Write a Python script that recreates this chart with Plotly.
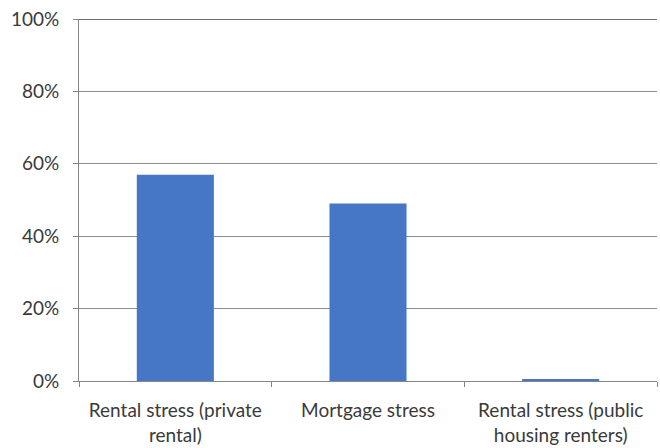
import plotly.graph_objects as go

# Share of households in housing stress, by tenure type
categories = [
    "Rental stress (private<br>rental)",
    "Mortgage stress",
    "Rental stress (public<br>housing renters)",
]
shares = [0.57, 0.49, 0.004]
y_ticks = [0, 0.2, 0.4, 0.6, 0.8, 1.0]
y_tick_labels = ["0%", "20%", "40%", "60%", "80%", "100%"]

font_family = "Lato, Carlito, Calibri, 'Open Sans', sans-serif"
text_color = "#3a3a3a"

fig = go.Figure(
    go.Bar(
        x=categories,
        y=shares,
        marker=dict(color="#4677C6", line=dict(width=0)),
        hoverinfo="x+y",
    )
)

fig.update_layout(
    width=660,
    height=448,
    margin=dict(l=79, r=3, t=19, b=67),
    paper_bgcolor="white",
    plot_bgcolor="white",
    bargap=0.6,
    showlegend=False,
    font=dict(family=font_family, size=19, color=text_color),
)

fig.update_xaxes(
    showline=True,
    linecolor="#868686",
    linewidth=1,
    ticks="outside",
    tickson="boundaries",
    ticklen=5,
    tickcolor="#868686",
    ticklabelstandoff=12,
    tickfont=dict(size=19, color=text_color),
    showgrid=False,
)

fig.update_yaxes(
    range=[0, 1.0],
    tickvals=y_ticks,
    ticktext=y_tick_labels,
    showline=True,
    linecolor="#868686",
    linewidth=1,
    ticks="outside",
    ticklen=5,
    tickcolor="#868686",
    ticklabelstandoff=10,
    showgrid=True,
    gridcolor="#8c8c8c",
    gridwidth=1,
    zeroline=False,
    tickfont=dict(size=19, color=text_color),
)

# darker rule along the top of the plot area
fig.add_shape(
    type="line",
    xref="paper",
    yref="y",
    x0=0,
    x1=1,
    y0=y_ticks[-1],
    y1=y_ticks[-1],
    line=dict(color="#3a3a3a", width=1.5),
)

fig.write_html("out.html")
